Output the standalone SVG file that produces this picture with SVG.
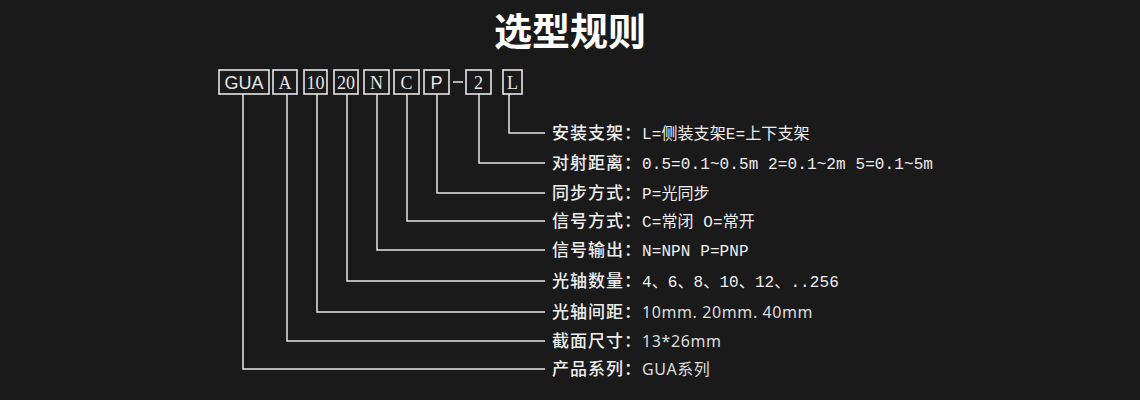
<svg xmlns="http://www.w3.org/2000/svg" width="1140" height="400" viewBox="0 0 1140 400">
<style>
.b{fill:none;stroke:#e6e6e6;stroke-width:1.6}
.bt{fill:#e6e6e6;font-family:"Liberation Serif",serif;font-size:18px;text-anchor:middle}
.c{fill:none;stroke:#e6e6e6;stroke-width:1.5}
.l{fill:#eeeeee;font-family:"Noto Sans CJK SC",sans-serif;font-size:17px;font-weight:500;letter-spacing:1px}
.v{fill:#eeeeee;font-family:"Liberation Mono","Noto Sans CJK SC",monospace;font-size:16px;letter-spacing:0.1px}
.s{fill:#dddddd;font-family:"Noto Sans","Noto Sans CJK SC",sans-serif;font-size:16px;font-weight:400;letter-spacing:0.6px}
</style>
<rect width="1140" height="400" fill="#1a1a1a"/>
<text x="570" y="45" text-anchor="middle" fill="#ffffff" font-family="Noto Sans CJK SC,sans-serif" font-size="38" font-weight="bold">选型规则</text>
<g id="boxes">
<g id="n-gua"><rect class="b" x="219" y="70" width="50" height="24"/><text x="244" y="89" class="bt" style="font-family:'Liberation Sans',sans-serif">GUA</text></g>
<g id="n-a"><rect class="b" x="273" y="70" width="24" height="24"/><text x="285" y="89" class="bt">A</text></g>
<g id="n-10"><rect class="b" x="304" y="70" width="23" height="24"/><text x="315.5" y="89" class="bt">10</text></g>
<g id="n-20"><rect class="b" x="334" y="70" width="24" height="24"/><text x="346" y="89" class="bt">20</text></g>
<g id="n-n"><rect class="b" x="364" y="70" width="25" height="24"/><text x="376.5" y="89" class="bt">N</text></g>
<g id="n-c"><rect class="b" x="394" y="70" width="25" height="24"/><text x="406.5" y="89" class="bt">C</text></g>
<g id="n-p"><rect class="b" x="424" y="70" width="25" height="24"/><text x="436.5" y="89" class="bt" style="font-family:'Liberation Sans',sans-serif">P</text></g>
<g id="n-dash"><line x1="453" y1="82" x2="463" y2="82" class="c"/></g>
<g id="n-2"><rect class="b" x="466" y="70" width="25" height="24"/><text x="478.5" y="89" class="bt">2</text></g>
<g id="n-l"><rect class="b" x="503" y="70" width="19" height="24"/><text x="512.5" y="89" class="bt">L</text></g>
</g>
<g id="connectors">
<polyline class="c" points="509,94 509,133 545,133"/>
<polyline class="c" points="479,94 479,163 545,163"/>
<polyline class="c" points="437,94 437,193 545,193"/>
<polyline class="c" points="407,94 407,221 545,221"/>
<polyline class="c" points="377,94 377,250 545,250"/>
<polyline class="c" points="347,94 347,281 545,281"/>
<polyline class="c" points="317,94 317,312 545,312"/>
<polyline class="c" points="287,94 287,341 545,341"/>
<polyline class="c" points="243,94 243,369 545,369"/>
</g>
<g id="labels">
<text x="552" y="139" class="v"><tspan class="l">安装支架：</tspan>L=侧装支架E=上下支架</text>
<text x="552" y="169" class="v"><tspan class="l">对射距离：</tspan>0.5=0.1~0.5m 2=0.1~2m 5=0.1~5m</text>
<text x="552" y="199" class="v"><tspan class="l">同步方式：</tspan>P=光同步</text>
<text x="552" y="227" class="v"><tspan class="l">信号方式：</tspan>C=常闭 O=常开</text>
<text x="552" y="256" class="v"><tspan class="l">信号输出：</tspan>N=NPN P=PNP</text>
<text x="552" y="287" class="v"><tspan class="l">光轴数量：</tspan>4、6、8、10、12、..256</text>
<text x="552" y="318" class="l">光轴间距：<tspan class="s">10mm. 20mm.  40mm</tspan></text>
<text x="552" y="347" class="l">截面尺寸：<tspan class="s">13*26mm</tspan></text>
<text x="552" y="375" class="l">产品系列：<tspan class="s">GUA系列</tspan></text>
</g>
</svg>
